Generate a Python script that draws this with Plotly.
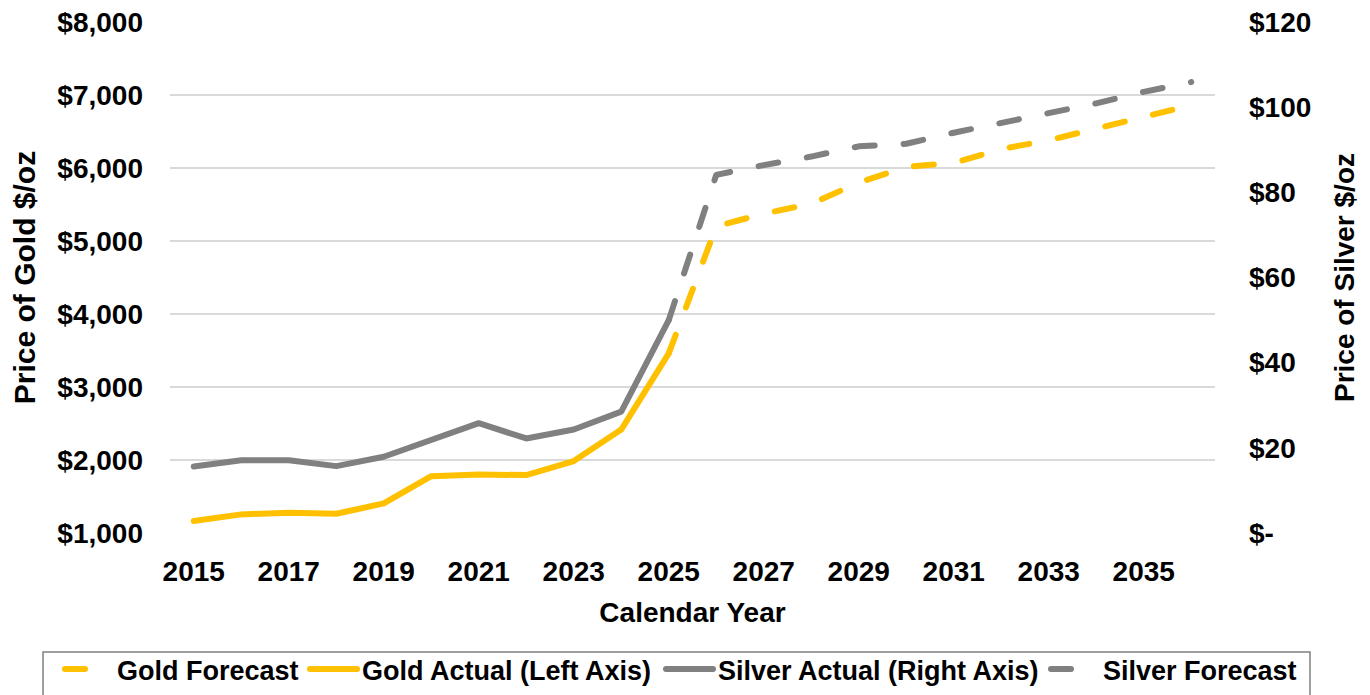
import plotly.graph_objects as go

# ---- data ----
years_actual = [2015, 2016, 2017, 2018, 2019, 2020, 2021, 2022, 2023, 2024, 2025]
gold_actual = [1164, 1255, 1278, 1264, 1405, 1779, 1802, 1793, 1985, 2417, 3460]
silver_actual = [15.6, 17.1, 17.1, 15.7, 17.9, 21.8, 25.8, 22.2, 24.3, 28.5, 50.0]

years_forecast = [2025, 2026, 2027, 2028, 2029, 2030, 2031, 2032, 2033, 2034, 2035, 2036]
gold_forecast = [3460, 5200, 5375, 5510, 5800, 6015, 6070, 6260, 6380, 6540, 6690, 6860]
silver_forecast = [50.0, 84.1, 86.4, 88.4, 90.8, 91.4, 94.0, 96.3, 98.6, 100.9, 103.6, 105.9]

x_tickvals = [2015, 2017, 2019, 2021, 2023, 2025, 2027, 2029, 2031, 2033, 2035]
gold_tickvals = [1000, 2000, 3000, 4000, 5000, 6000, 7000, 8000]
gold_ticktext = ["$1,000", "$2,000", "$3,000", "$4,000", "$5,000", "$6,000", "$7,000", "$8,000"]
silver_tickvals = [0, 20, 40, 60, 80, 100, 120]
silver_ticktext = ["$-", "$20", "$40", "$60", "$80", "$100", "$120"]

GOLD = "#FFC000"
GRAY = "#808080"
FONT = "Liberation Sans, Arial, sans-serif"
DASH = "20px,29px"

fig = go.Figure()
fig.add_trace(go.Scatter(x=years_forecast, y=gold_forecast, name="<b>Gold Forecast</b>",
                         mode="lines", line=dict(color=GOLD, width=6, dash=DASH), yaxis="y",
                         legend="legend", legendwidth=183))
fig.add_trace(go.Scatter(x=years_actual, y=gold_actual, name="<b>Gold Actual (Left Axis)</b>",
                         mode="lines", line=dict(color=GOLD, width=6), yaxis="y",
                         legend="legend", legendwidth=294))
fig.add_trace(go.Scatter(x=years_actual, y=silver_actual, name="<b>Silver Actual (Right Axis)</b>",
                         mode="lines", line=dict(color=GRAY, width=6), yaxis="y2",
                         legend="legend2", legendwidth=323))
fig.add_trace(go.Scatter(x=years_forecast, y=silver_forecast, name="<b>Silver Forecast</b>",
                         mode="lines", line=dict(color=GRAY, width=6, dash=DASH), yaxis="y2",
                         legend="legend2", legendwidth=200))

legend_common = dict(orientation="h", yanchor="top", y=-0.2192, xanchor="left",
                     borderwidth=0, bgcolor="rgba(0,0,0,0)",
                     font=dict(family=FONT, size=27, color="black"),
                     itemwidth=47, tracegroupgap=0)

fig.update_layout(
    width=1370, height=695,
    margin=dict(l=170, r=155, t=22, b=162, autoexpand=False),
    paper_bgcolor="white", plot_bgcolor="white",
    font=dict(family=FONT, color="black", size=28),
    xaxis=dict(range=[2014.5, 2036.5], tickvals=x_tickvals, showgrid=False, zeroline=False,
               showline=False, ticks="", ticklabelstandoff=19,
               tickfont=dict(size=28, family=FONT, weight="bold"),
               title=dict(text="<b>Calendar Year</b>", font=dict(size=28, family=FONT), standoff=16)),
    yaxis=dict(range=[1000, 8000], tickvals=gold_tickvals, ticktext=gold_ticktext,
               showgrid=True, gridcolor="#d9d9d9", gridwidth=1.5, zeroline=False, showline=False,
               ticks="", ticklabelstandoff=26,
               tickfont=dict(size=28, family=FONT, weight="bold"),
               title=dict(text="<b>Price of Gold $/oz</b>", font=dict(size=30, family=FONT), standoff=12)),
    yaxis2=dict(range=[0, 120], tickvals=silver_tickvals, ticktext=silver_ticktext,
                overlaying="y", side="right", showgrid=False, zeroline=False, showline=False,
                ticks="", ticklabelstandoff=33,
                tickfont=dict(size=28, family=FONT, weight="bold"),
                title=dict(text="<b>Price of Silver $/oz</b>", font=dict(size=28, family=FONT), standoff=24)),
    legend=dict(legend_common, x=-0.10526),
    legend2=dict(legend_common, x=0.46986),
    shapes=[dict(type="rect", xref="paper", yref="paper",
                 x0=-0.1215, x1=1.0909, y0=-0.2329, y1=-0.34,
                 line=dict(color="#7f7f7f", width=1.5), fillcolor="rgba(0,0,0,0)", layer="above")],
    showlegend=True,
)

post = """
document.body.style.margin='0';
document.body.style.overflow='hidden';
document.querySelectorAll('.js-line, .legendlines path').forEach(function(p){
  p.style.strokeLinecap='round'; p.style.strokeLinejoin='round';
});
"""
fig.write_html("out.html", post_script=post, config={"displayModeBar": False})
